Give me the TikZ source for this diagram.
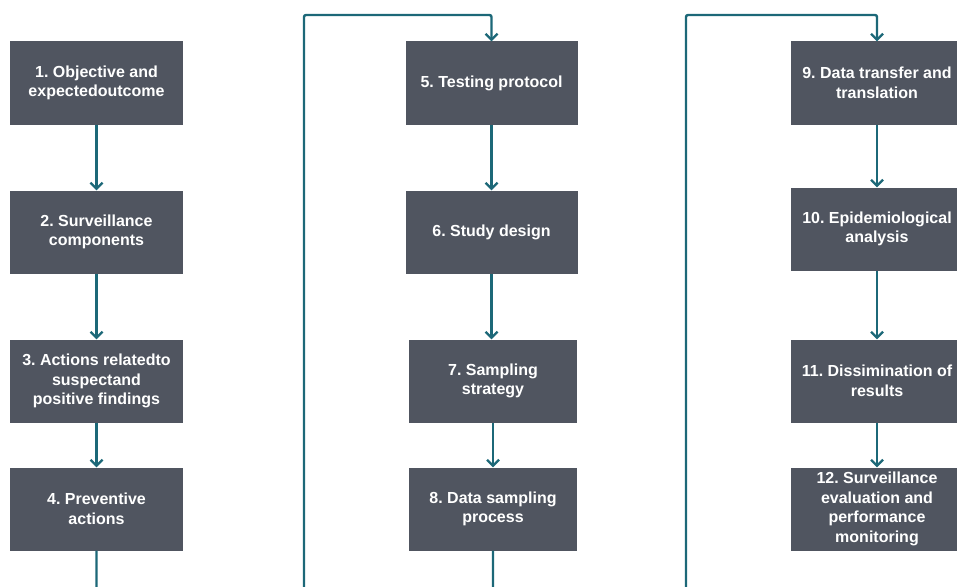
\documentclass[tikz,border=0pt]{standalone}
\usepackage{fontspec}
\setmainfont{Liberation Sans}
\usetikzlibrary{arrows.meta}
\definecolor{boxgray}{RGB}{80,85,96}
\definecolor{teal2}{RGB}{28,104,120}
\frenchspacing
\tikzset{
  stepbox/.style={draw=none, fill=boxgray, minimum width=172pt, minimum height=83pt,
    inner sep=0pt, text=white, font=\bfseries\fontsize{16}{19.5}\selectfont\frenchspacing, align=center},
  flow/.style={draw=teal2, line width=2.4pt, -{Straight Barb[length=6pt,width=12pt,line width=2.2pt]}},
  loop/.style={flow, rounded corners=2pt}
}
\begin{document}
\begin{tikzpicture}[x=1pt,y=-1pt]
\clip (0,0) rectangle (957,586);
\fill[white] (0,0) rectangle (957,586);
% column 1
\node[stepbox, minimum width=173pt] (n1) at (96.5,83) {1. Objective and\\expectedoutcome};
\node[stepbox, minimum width=173pt] (n2) at (96.5,232) {2. Surveillance\\components};
\node[stepbox, minimum width=173pt] (n3) at (96.5,381) {3. Actions relatedto\\suspectand\\positive findings};
\node[stepbox, minimum width=173pt] (n4) at (96.5,509) {4. Preventive\\actions};
% column 2
\node[stepbox] (n5) at (491.5,83) {5. Testing protocol};
\node[stepbox] (n6) at (491.5,232) {6. Study design};
\node[stepbox, minimum width=168pt] (n7) at (493,381) {7. Sampling\\strategy};
\node[stepbox, minimum width=168pt] (n8) at (493,509) {8. Data sampling\\process};
% column 3
\node[stepbox] (n9) at (877,83) {9. Data transfer and\\translation};
\node[stepbox] (n10) at (877,229) {10. Epidemiological\\analysis};
\node[stepbox] (n11) at (877,381) {11. Dissimination of\\results};
\node[stepbox] (n12) at (877,509) {12. Surveillance\\evaluation and\\performance\\monitoring};
% connectors
\draw[flow] (n1) -- (n2);
\draw[flow] (n2) -- (n3);
\draw[flow] (n3) -- (n4);
\draw[flow] (n5) -- (n6);
\draw[flow] (n6.south) -- (n7.north -| n6.south);
\draw[flow] (n7) -- (n8);
\draw[flow] (n9) -- (n10);
\draw[flow] (n10) -- (n11);
\draw[flow] (n11) -- (n12);
\coordinate (b1) at (96.5,600);
\coordinate (b2) at (493,600);
\draw[loop] (n4.south) -- (b1) -| (304,15) -| (n5.north);
\draw[loop] (n8.south) -- (b2) -| (686,15) -| (n9.north);
\end{tikzpicture}
\end{document}
